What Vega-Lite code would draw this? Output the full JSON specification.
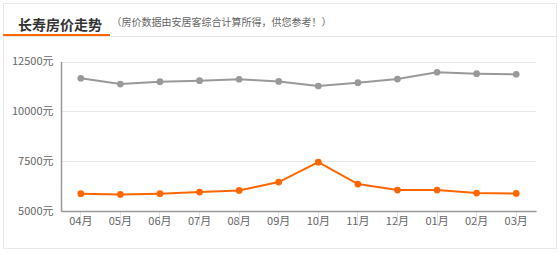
{
  "$schema": "https://vega.github.io/schema/vega-lite/v6.json",
  "autosize": {"type": "none"},
  "width": 553,
  "height": 245,
  "padding": {"left": 3, "top": 3, "right": 2, "bottom": 5},
  "background": "#ffffff",
  "config": {
    "font": "Noto Sans CJK SC",
    "view": {"stroke": "#e8e8e8", "strokeWidth": 1}
  },
  "title": {
    "text": "长寿房价走势",
    "anchor": "start",
    "frame": "group",
    "orient": "top",
    "offset": 0,
    "dx": 15,
    "dy": 30,
    "font": "Noto Sans CJK SC",
    "fontSize": 14,
    "fontWeight": "bold",
    "color": "#333333"
  },
  "data": {
    "values": [
      {"month": "04月", "area": "重庆", "price": 11660},
      {"month": "05月", "area": "重庆", "price": 11370},
      {"month": "06月", "area": "重庆", "price": 11490},
      {"month": "07月", "area": "重庆", "price": 11540},
      {"month": "08月", "area": "重庆", "price": 11610},
      {"month": "09月", "area": "重庆", "price": 11500},
      {"month": "10月", "area": "重庆", "price": 11270},
      {"month": "11月", "area": "重庆", "price": 11440},
      {"month": "12月", "area": "重庆", "price": 11620},
      {"month": "01月", "area": "重庆", "price": 11960},
      {"month": "02月", "area": "重庆", "price": 11890},
      {"month": "03月", "area": "重庆", "price": 11860},
      {"month": "04月", "area": "长寿", "price": 5870},
      {"month": "05月", "area": "长寿", "price": 5830},
      {"month": "06月", "area": "长寿", "price": 5870},
      {"month": "07月", "area": "长寿", "price": 5950},
      {"month": "08月", "area": "长寿", "price": 6030},
      {"month": "09月", "area": "长寿", "price": 6450},
      {"month": "10月", "area": "长寿", "price": 7450},
      {"month": "11月", "area": "长寿", "price": 6350},
      {"month": "12月", "area": "长寿", "price": 6050},
      {"month": "01月", "area": "长寿", "price": 6050},
      {"month": "02月", "area": "长寿", "price": 5900},
      {"month": "03月", "area": "长寿", "price": 5880}
    ]
  },
  "encoding": {
    "x": {
      "field": "month",
      "type": "ordinal",
      "sort": null,
      "scale": {"type": "band", "range": [58, 533], "paddingInner": 0, "paddingOuter": 0},
      "axis": {
        "title": null,
        "orient": "bottom",
        "offset": -37,
        "labelAngle": 0,
        "labelFont": "Noto Sans CJK SC",
        "labelFontSize": 11,
        "labelColor": "#666666",
        "labelBaseline": "top",
        "labelPadding": -10,
        "ticks": true,
        "tickSize": 14,
        "tickColor": "#dce7f2",
        "tickWidth": 1,
        "domainColor": "#999999",
        "domainWidth": 1.5,
        "grid": false
      }
    },
    "y": {
      "field": "price",
      "type": "quantitative",
      "scale": {"domain": [5000, 12500], "nice": false, "zero": false, "range": [208, 58.5]},
      "axis": {
        "title": "（房价数据由安居客综合计算所得，供您参考！）",
        "titleAngle": 0,
        "titleAlign": "left",
        "titleBaseline": "middle",
        "titleX": 50,
        "titleY": 19.5,
        "titleFont": "Noto Sans CJK SC",
        "titleFontSize": 10,
        "titleFontWeight": "normal",
        "titleColor": "#666666",
        "orient": "left",
        "offset": -58,
        "values": [5000, 7500, 10000, 12500],
        "labelExpr": "datum.value + '元'",
        "labelFont": "Noto Sans CJK SC",
        "labelFontSize": 11,
        "labelColor": "#666666",
        "labelPadding": 8,
        "ticks": false,
        "tickSize": 0,
        "domainColor": "#999999",
        "domainWidth": 1.5,
        "grid": true,
        "gridColor": "#e8e8e8",
        "gridWidth": 1.2
      }
    },
    "color": {
      "field": "area",
      "type": "nominal",
      "scale": {"domain": ["重庆", "长寿"], "range": ["#999999", "#ff6600"]},
      "legend": null
    }
  },
  "layer": [
    {"mark": {"type": "line", "strokeWidth": 2}},
    {"mark": {"type": "point", "filled": true, "opacity": 1, "size": 45}},
    {
      "data": {"values": [{"part": "rule"}]},
      "mark": {"type": "rule", "color": "#e6e6e6", "strokeWidth": 1},
      "encoding": {"x": {"value": 0}, "x2": {"value": 553}, "y": {"value": 33.5}, "color": {"value": "#e6e6e6"}}
    },
    {
      "data": {"values": [{"part": "accent"}]},
      "mark": {"type": "rule", "color": "#ff6600", "strokeWidth": 2},
      "encoding": {"x": {"value": 0}, "x2": {"value": 107}, "y": {"value": 32}, "color": {"value": "#ff6600"}}
    }
  ]
}
